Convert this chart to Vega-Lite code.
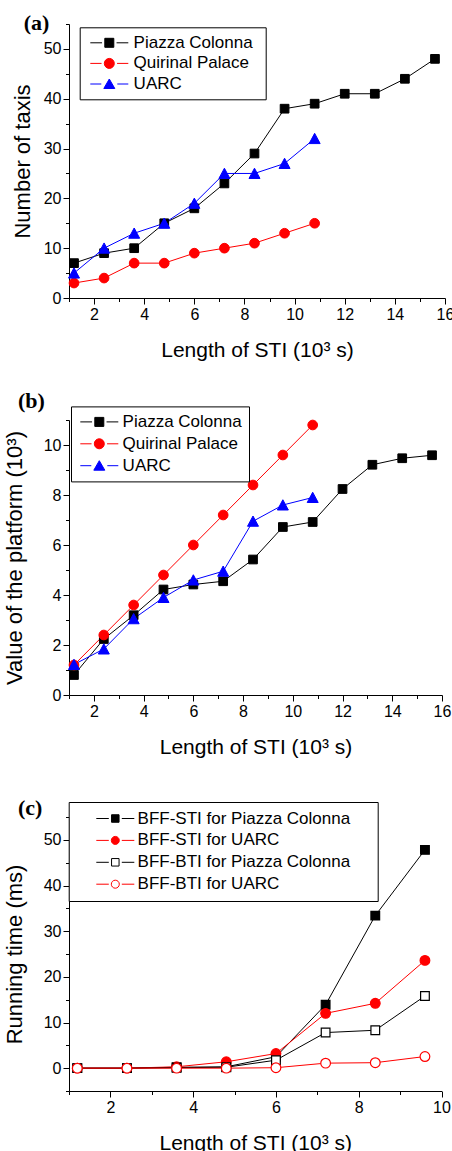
{
  "$schema": "https://vega.github.io/schema/vega-lite/v6.json",
  "background": "white",
  "padding": {"left": 3, "top": 11, "right": 0, "bottom": 0},
  "spacing": 122,
  "bounds": "flush",
  "resolve": {"scale": {"stroke": "independent"}, "legend": {"stroke": "independent"}},
  "config": {
    "view": {"stroke": null},
    "axis": {"grid": false, "domainColor": "black", "tickColor": "black", "labelColor": "black", "titleColor": "black", "labelFont": "Liberation Sans", "titleFont": "Liberation Sans", "labelFontSize": 16, "titleFontSize": 21, "titleFontWeight": "normal", "labelFlush": false, "labelOverlap": false, "tickWidth": 1, "domainWidth": 1, "labelPadding": 2},
    "axisY": {"titleFontSize": 22},
    "title": {"font": "Liberation Serif", "fontSize": 22, "fontWeight": "bold", "color": "black", "anchor": "start", "frame": "group", "baseline": "alphabetic"},
    "legend": {"orient": "none", "strokeColor": "black", "fillColor": "white", "labelFont": "Liberation Sans", "labelFontSize": 17, "labelColor": "black", "labelLimit": 400, "symbolSize": 100, "symbolStrokeWidth": 1, "titleOrient": "right", "titleFontSize": 17, "titleFont": "Liberation Sans"}
  },
  "vconcat": [
    {
      "width": 376, "height": 274,
      "title": {"text": "(a)", "dx": -45.3, "offset": -11},
      "data": {"values": [
        {"series": "Piazza Colonna", "x": 1.2, "y": 7}, {"series": "Piazza Colonna", "x": 2.4, "y": 9}, {"series": "Piazza Colonna", "x": 3.6, "y": 10}, {"series": "Piazza Colonna", "x": 4.8, "y": 15}, {"series": "Piazza Colonna", "x": 6.0, "y": 18}, {"series": "Piazza Colonna", "x": 7.2, "y": 23}, {"series": "Piazza Colonna", "x": 8.4, "y": 29}, {"series": "Piazza Colonna", "x": 9.6, "y": 38}, {"series": "Piazza Colonna", "x": 10.8, "y": 39}, {"series": "Piazza Colonna", "x": 12.0, "y": 41}, {"series": "Piazza Colonna", "x": 13.2, "y": 41}, {"series": "Piazza Colonna", "x": 14.4, "y": 44}, {"series": "Piazza Colonna", "x": 15.6, "y": 48},
        {"series": "Quirinal Palace", "x": 1.2, "y": 3}, {"series": "Quirinal Palace", "x": 2.4, "y": 4}, {"series": "Quirinal Palace", "x": 3.6, "y": 7}, {"series": "Quirinal Palace", "x": 4.8, "y": 7}, {"series": "Quirinal Palace", "x": 6.0, "y": 9}, {"series": "Quirinal Palace", "x": 7.2, "y": 10}, {"series": "Quirinal Palace", "x": 8.4, "y": 11}, {"series": "Quirinal Palace", "x": 9.6, "y": 13}, {"series": "Quirinal Palace", "x": 10.8, "y": 15},
        {"series": "UARC", "x": 1.2, "y": 5}, {"series": "UARC", "x": 2.4, "y": 10}, {"series": "UARC", "x": 3.6, "y": 13}, {"series": "UARC", "x": 4.8, "y": 15}, {"series": "UARC", "x": 6.0, "y": 19}, {"series": "UARC", "x": 7.2, "y": 25}, {"series": "UARC", "x": 8.4, "y": 25}, {"series": "UARC", "x": 9.6, "y": 27}, {"series": "UARC", "x": 10.8, "y": 32}
      ]},
      "layer": [
        {
          "mark": {"type": "line", "strokeWidth": 1},
          "encoding": {
            "x": {"field": "x", "type": "quantitative", "scale": {"domain": [1, 16], "nice": false, "zero": false}, "axis": {"orient": "bottom", "values": [2, 4, 6, 8, 10, 12, 14, 16], "tickSize": 6, "title": "Length of STI (10³ s)", "titlePadding": 17}},
            "y": {"field": "y", "type": "quantitative", "scale": {"domain": [0, 55], "nice": false, "zero": false}, "axis": {"orient": "left", "values": [0, 10, 20, 30, 40, 50], "tickSize": 6, "title": "Number of taxis", "titlePadding": 8.3}},
            "stroke": {"field": "series", "type": "nominal", "scale": {"domain": ["Piazza Colonna", "Quirinal Palace", "UARC"], "range": ["#000000", "#ff0000", "#0000ff"]},
              "legend": {"legendX": 10.7, "legendY": 3.3, "padding": 7, "symbolOffset": 14.1, "labelOffset": 15.8, "rowPadding": 2.6, "title": "\u00a0", "titlePadding": 6,
                "encode": {
                  "symbols": {"update": {
                  "shape": {"signal": "datum.value == 'Piazza Colonna' ? 'M-3.8,0H-1.45M-0.9,-0.9H0.9V0.9H-0.9ZM1.45,0H3.8' : datum.value == 'Quirinal Palace' ? 'M-3.8,0H-1.55M1,0C1,0.5523,0.5523,1,0,1C-0.5523,1,-1,0.5523,-1,0C-1,-0.5523,-0.5523,-1,0,-1C0.5523,-1,1,-0.5523,1,0ZM1.55,0H3.8' : 'M-3.8,0H-1.6M0,-1L1.1,0.9L-1.1,0.9ZM1.6,0H3.8'"},
                  "fill": {"signal": "datum.value == 'Piazza Colonna' ? '#000000' : datum.value == 'Quirinal Palace' ? '#ff0000' : '#0000ff'"},
                  "strokeWidth": {"value": 1},
                  "opacity": {"value": 1}
                }}}}}
          }
        },
        {
          "mark": {"type": "point", "filled": true, "size": 100, "strokeWidth": 1, "opacity": 1,
            "fill": {"expr": "datum.series == 'Piazza Colonna' ? '#000000' : datum.series == 'Quirinal Palace' ? '#ff0000' : '#0000ff'"},
            "shape": {"expr": "datum.series == 'Piazza Colonna' ? 'M-0.87,-0.87H0.87V0.87H-0.87Z' : datum.series == 'Quirinal Palace' ? 'M0.97,0C0.97,0.5357,0.5357,0.97,0,0.97C-0.5357,0.97,-0.97,0.5357,-0.97,0C-0.97,-0.5357,-0.5357,-0.97,0,-0.97C0.5357,-0.97,0.97,-0.5357,0.97,0Z' : 'M0,-1.05L1.1,1.0L-1.1,1.0Z'"}},
          "encoding": {
            "x": {"field": "x", "type": "quantitative", "scale": {"domain": [1, 16], "nice": false, "zero": false}, "axis": {"orient": "bottom", "values": [1, 3, 5, 7, 9, 11, 13, 15], "tickSize": 3.5, "labels": false, "domain": false, "title": null}},
            "y": {"field": "y", "type": "quantitative", "scale": {"domain": [0, 55], "nice": false, "zero": false}, "axis": {"orient": "left", "values": [5, 15, 25, 35, 45, 55], "tickSize": 3.5, "labels": false, "domain": false, "title": null}},
            "stroke": {"field": "series", "type": "nominal", "scale": {"domain": ["Piazza Colonna", "Quirinal Palace", "UARC"], "range": ["#000000", "#ff0000", "#0000ff"]}}
          }
        }
      ],
      "resolve": {"axis": {"x": "independent", "y": "independent"}}
    },
    {
      "width": 373, "height": 275,
      "title": {"text": "(b)", "dx": -51, "offset": -7.1},
      "data": {"values": [
        {"series": "Piazza Colonna", "x": 1.2, "y": 0.8}, {"series": "Piazza Colonna", "x": 2.4, "y": 2.24}, {"series": "Piazza Colonna", "x": 3.6, "y": 3.19}, {"series": "Piazza Colonna", "x": 4.8, "y": 4.22}, {"series": "Piazza Colonna", "x": 6.0, "y": 4.42}, {"series": "Piazza Colonna", "x": 7.2, "y": 4.55}, {"series": "Piazza Colonna", "x": 8.4, "y": 5.42}, {"series": "Piazza Colonna", "x": 9.6, "y": 6.72}, {"series": "Piazza Colonna", "x": 10.8, "y": 6.92}, {"series": "Piazza Colonna", "x": 12.0, "y": 8.24}, {"series": "Piazza Colonna", "x": 13.2, "y": 9.21}, {"series": "Piazza Colonna", "x": 14.4, "y": 9.47}, {"series": "Piazza Colonna", "x": 15.6, "y": 9.59},
        {"series": "Quirinal Palace", "x": 1.2, "y": 1.2}, {"series": "Quirinal Palace", "x": 2.4, "y": 2.4}, {"series": "Quirinal Palace", "x": 3.6, "y": 3.6}, {"series": "Quirinal Palace", "x": 4.8, "y": 4.8}, {"series": "Quirinal Palace", "x": 6.0, "y": 6.0}, {"series": "Quirinal Palace", "x": 7.2, "y": 7.2}, {"series": "Quirinal Palace", "x": 8.4, "y": 8.4}, {"series": "Quirinal Palace", "x": 9.6, "y": 9.6}, {"series": "Quirinal Palace", "x": 10.8, "y": 10.8},
        {"series": "UARC", "x": 1.2, "y": 1.22}, {"series": "UARC", "x": 2.4, "y": 1.84}, {"series": "UARC", "x": 3.6, "y": 3.05}, {"series": "UARC", "x": 4.8, "y": 3.9}, {"series": "UARC", "x": 6.0, "y": 4.6}, {"series": "UARC", "x": 7.2, "y": 4.95}, {"series": "UARC", "x": 8.4, "y": 6.95}, {"series": "UARC", "x": 9.6, "y": 7.6}, {"series": "UARC", "x": 10.8, "y": 7.9}
      ]},
      "layer": [
        {
          "mark": {"type": "line", "strokeWidth": 1},
          "encoding": {
            "x": {"field": "x", "type": "quantitative", "scale": {"domain": [1, 16], "nice": false, "zero": false}, "axis": {"orient": "bottom", "values": [2, 4, 6, 8, 10, 12, 14, 16], "tickSize": 6, "title": "Length of STI (10³ s)", "titlePadding": 17}},
            "y": {"field": "y", "type": "quantitative", "scale": {"domain": [0, 11], "nice": false, "zero": false}, "axis": {"orient": "left", "values": [0, 2, 4, 6, 8, 10], "tickSize": 6, "title": "Value of the platform (10³)", "titlePadding": 16.6}},
            "stroke": {"field": "series", "type": "nominal", "scale": {"domain": ["Piazza Colonna", "Quirinal Palace", "UARC"], "range": ["#000000", "#ff0000", "#0000ff"]},
              "legend": {"legendX": 2, "legendY": -13.6, "padding": 7, "symbolOffset": 12.8, "labelOffset": 14.8, "rowPadding": 3.9, "title": "\u00a0", "titlePadding": 0,
                "encode": {
                  "symbols": {"update": {
                  "shape": {"signal": "datum.value == 'Piazza Colonna' ? 'M-3.8,0H-1.45M-0.9,-0.9H0.9V0.9H-0.9ZM1.45,0H3.8' : datum.value == 'Quirinal Palace' ? 'M-3.8,0H-1.55M1,0C1,0.5523,0.5523,1,0,1C-0.5523,1,-1,0.5523,-1,0C-1,-0.5523,-0.5523,-1,0,-1C0.5523,-1,1,-0.5523,1,0ZM1.55,0H3.8' : 'M-3.8,0H-1.6M0,-1L1.1,0.9L-1.1,0.9ZM1.6,0H3.8'"},
                  "fill": {"signal": "datum.value == 'Piazza Colonna' ? '#000000' : datum.value == 'Quirinal Palace' ? '#ff0000' : '#0000ff'"},
                  "strokeWidth": {"value": 1},
                  "opacity": {"value": 1}
                }}}}}
          }
        },
        {
          "mark": {"type": "point", "filled": true, "size": 100, "strokeWidth": 1, "opacity": 1,
            "fill": {"expr": "datum.series == 'Piazza Colonna' ? '#000000' : datum.series == 'Quirinal Palace' ? '#ff0000' : '#0000ff'"},
            "shape": {"expr": "datum.series == 'Piazza Colonna' ? 'M-0.87,-0.87H0.87V0.87H-0.87Z' : datum.series == 'Quirinal Palace' ? 'M0.97,0C0.97,0.5357,0.5357,0.97,0,0.97C-0.5357,0.97,-0.97,0.5357,-0.97,0C-0.97,-0.5357,-0.5357,-0.97,0,-0.97C0.5357,-0.97,0.97,-0.5357,0.97,0Z' : 'M0,-1.05L1.1,1.0L-1.1,1.0Z'"}},
          "encoding": {
            "x": {"field": "x", "type": "quantitative", "scale": {"domain": [1, 16], "nice": false, "zero": false}, "axis": {"orient": "bottom", "values": [1, 3, 5, 7, 9, 11, 13, 15], "tickSize": 3.5, "labels": false, "domain": false, "title": null}},
            "y": {"field": "y", "type": "quantitative", "scale": {"domain": [0, 11], "nice": false, "zero": false}, "axis": {"orient": "left", "values": [1, 3, 5, 7, 9, 11], "tickSize": 3.5, "labels": false, "domain": false, "title": null}},
            "stroke": {"field": "series", "type": "nominal", "scale": {"domain": ["Piazza Colonna", "Quirinal Palace", "UARC"], "range": ["#000000", "#ff0000", "#0000ff"]}}
          }
        }
      ],
      "resolve": {"axis": {"x": "independent", "y": "independent"}}
    },
    {
      "width": 372.5, "height": 274,
      "title": {"text": "(c)", "dx": -51, "offset": -18.8},
      "data": {"values": [
        {"series": "BFF-STI for Piazza Colonna", "x": 1.2, "y": 0}, {"series": "BFF-STI for Piazza Colonna", "x": 2.4, "y": 0}, {"series": "BFF-STI for Piazza Colonna", "x": 3.6, "y": 0.2}, {"series": "BFF-STI for Piazza Colonna", "x": 4.8, "y": 0.3}, {"series": "BFF-STI for Piazza Colonna", "x": 6.0, "y": 2.5}, {"series": "BFF-STI for Piazza Colonna", "x": 7.2, "y": 13.9}, {"series": "BFF-STI for Piazza Colonna", "x": 8.4, "y": 33.4}, {"series": "BFF-STI for Piazza Colonna", "x": 9.6, "y": 47.8},
        {"series": "BFF-STI for UARC", "x": 1.2, "y": 0}, {"series": "BFF-STI for UARC", "x": 2.4, "y": 0}, {"series": "BFF-STI for UARC", "x": 3.6, "y": 0.3}, {"series": "BFF-STI for UARC", "x": 4.8, "y": 1.4}, {"series": "BFF-STI for UARC", "x": 6.0, "y": 3.2}, {"series": "BFF-STI for UARC", "x": 7.2, "y": 12.0}, {"series": "BFF-STI for UARC", "x": 8.4, "y": 14.2}, {"series": "BFF-STI for UARC", "x": 9.6, "y": 23.6},
        {"series": "BFF-BTI for Piazza Colonna", "x": 1.2, "y": 0}, {"series": "BFF-BTI for Piazza Colonna", "x": 2.4, "y": 0}, {"series": "BFF-BTI for Piazza Colonna", "x": 3.6, "y": 0.1}, {"series": "BFF-BTI for Piazza Colonna", "x": 4.8, "y": 0.2}, {"series": "BFF-BTI for Piazza Colonna", "x": 6.0, "y": 1.75}, {"series": "BFF-BTI for Piazza Colonna", "x": 7.2, "y": 7.8}, {"series": "BFF-BTI for Piazza Colonna", "x": 8.4, "y": 8.3}, {"series": "BFF-BTI for Piazza Colonna", "x": 9.6, "y": 15.8},
        {"series": "BFF-BTI for UARC", "x": 1.2, "y": 0}, {"series": "BFF-BTI for UARC", "x": 2.4, "y": 0}, {"series": "BFF-BTI for UARC", "x": 3.6, "y": 0}, {"series": "BFF-BTI for UARC", "x": 4.8, "y": 0}, {"series": "BFF-BTI for UARC", "x": 6.0, "y": 0.1}, {"series": "BFF-BTI for UARC", "x": 7.2, "y": 1.1}, {"series": "BFF-BTI for UARC", "x": 8.4, "y": 1.2}, {"series": "BFF-BTI for UARC", "x": 9.6, "y": 2.55}
      ]},
      "layer": [
        {
          "mark": {"type": "line", "strokeWidth": 1},
          "encoding": {
            "x": {"field": "x", "type": "quantitative", "scale": {"domain": [1, 10], "nice": false, "zero": false}, "axis": {"orient": "bottom", "values": [2, 4, 6, 8, 10], "tickSize": 6, "title": "Length of STI (10³ s)", "titlePadding": 17}},
            "y": {"field": "y", "type": "quantitative", "scale": {"domain": [-5, 55], "nice": false, "zero": false}, "axis": {"orient": "left", "values": [0, 10, 20, 30, 40, 50], "tickSize": 6, "title": "Running time (ms)", "titlePadding": 16.6}},
            "stroke": {"field": "series", "type": "nominal", "scale": {"domain": ["BFF-STI for Piazza Colonna", "BFF-STI for UARC", "BFF-BTI for Piazza Colonna", "BFF-BTI for UARC"], "range": ["#000000", "#ff0000", "#000000", "#ff0000"]},
              "legend": {"legendX": -0.3, "legendY": -15, "padding": 8, "symbolOffset": 30.1, "labelOffset": 13.8, "rowPadding": 3.9, "title": "\u00a0", "titlePadding": 20,
                "encode": {
                  "symbols": {"update": {
                  "shape": {"signal": "(datum.value == 'BFF-STI for Piazza Colonna' || datum.value == 'BFF-BTI for Piazza Colonna') ? 'M-3.8,0H-1.3M-0.75,-0.75H0.75V0.75H-0.75ZM1.3,0H3.8' : 'M-3.8,0H-1.3M0.8,0C0.8,0.4418,0.4418,0.8,0,0.8C-0.4418,0.8,-0.8,0.4418,-0.8,0C-0.8,-0.4418,-0.4418,-0.8,0,-0.8C0.4418,-0.8,0.8,-0.4418,0.8,0ZM1.3,0H3.8'"},
                  "fill": {"signal": "datum.value == 'BFF-STI for Piazza Colonna' ? '#000000' : datum.value == 'BFF-STI for UARC' ? '#ff0000' : '#ffffff'"},
                  "strokeWidth": {"value": 1},
                  "opacity": {"value": 1}
                }}}}}
          }
        },
        {
          "mark": {"type": "point", "filled": true, "size": 100, "strokeWidth": 1.2, "opacity": 1,
            "fill": {"expr": "datum.series == 'BFF-STI for Piazza Colonna' ? '#000000' : datum.series == 'BFF-STI for UARC' ? '#ff0000' : '#ffffff'"},
            "shape": {"expr": "(datum.series == 'BFF-STI for Piazza Colonna' || datum.series == 'BFF-BTI for Piazza Colonna') ? 'M-0.87,-0.87H0.87V0.87H-0.87Z' : 'M0.97,0C0.97,0.5357,0.5357,0.97,0,0.97C-0.5357,0.97,-0.97,0.5357,-0.97,0C-0.97,-0.5357,-0.5357,-0.97,0,-0.97C0.5357,-0.97,0.97,-0.5357,0.97,0Z'"}},
          "encoding": {
            "x": {"field": "x", "type": "quantitative", "scale": {"domain": [1, 10], "nice": false, "zero": false}, "axis": {"orient": "bottom", "values": [1, 3, 5, 7, 9], "tickSize": 3.5, "labels": false, "domain": false, "title": null}},
            "y": {"field": "y", "type": "quantitative", "scale": {"domain": [-5, 55], "nice": false, "zero": false}, "axis": {"orient": "left", "values": [-5, 5, 15, 25, 35, 45, 55], "tickSize": 3.5, "labels": false, "domain": false, "title": null}},
            "stroke": {"field": "series", "type": "nominal", "scale": {"domain": ["BFF-STI for Piazza Colonna", "BFF-STI for UARC", "BFF-BTI for Piazza Colonna", "BFF-BTI for UARC"], "range": ["#000000", "#ff0000", "#000000", "#ff0000"]}}
          }
        }
      ],
      "resolve": {"axis": {"x": "independent", "y": "independent"}}
    }
  ]
}
